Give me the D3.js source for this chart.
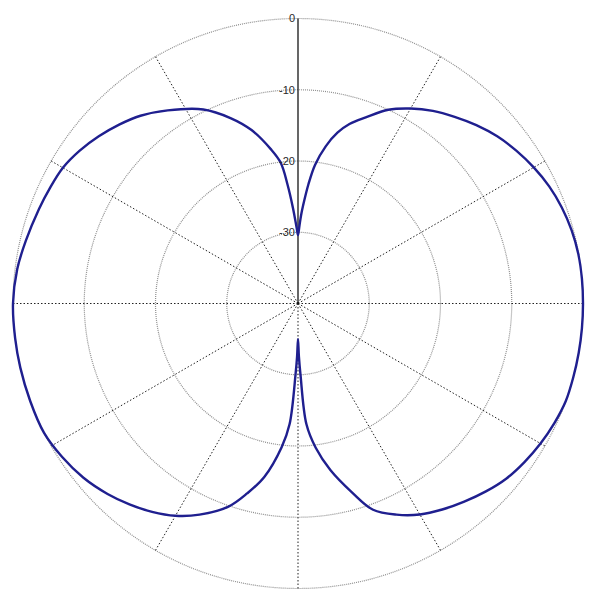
<!DOCTYPE html>
<html>
<head>
<meta charset="utf-8">
<script src="https://cdn.jsdelivr.net/npm/d3@7"></script>
<style>
  body { margin: 0; background: #fff; }
</style>
</head>
<body>
<div id="polar"></div>
<script>
// Pattern data: angle (deg, clockwise from top) and level (dB)
var angles = [0, 1, 2, 3, 5, 7, 10, 13, 16, 20, 25, 30, 35, 40, 45, 50, 55, 60, 65, 70, 75, 80, 85, 90,
  95, 100, 105, 110, 115, 120, 125, 130, 135, 140, 145, 150, 155, 160, 164, 169, 173, 176, 178, 179, 180,
  181, 182, 184, 186.5, 191, 195, 199, 205, 210, 215, 220, 225, 231, 237, 243, 250, 257, 263, 270,
  277, 283, 290, 295, 300, 305, 310, 315, 320, 326, 334, 340, 345, 350, 353, 355, 357, 359];
var levels = [-30.4, -29.2, -27.6, -26.2, -23.2, -20.4, -17.6, -15.4, -13.8, -12.2, -10.0, -8.4, -7.0, -5.8, -4.6, -3.5, -2.6, -1.8, -1.1, -0.6, -0.25, -0.05, 0, 0,
  0, 0, 0, 0, -0.3, -0.7, -1.2, -1.8, -2.7, -3.7, -4.7, -5.8, -7.3, -9.2, -12.4, -16.2, -19.6, -23, -30, -32.5, -35,
  -32.5, -30, -23, -19.7, -15.2, -12.4, -9.8, -7.3, -5.6, -4.3, -3.2, -2.2, -1.2, -0.5, 0, 0, 0, 0, 0,
  -0.3, -0.8, -1.3, -1.6, -1.9, -2.6, -3.5, -4.5, -5.6, -7.3, -9.7, -12.3, -14.8, -18, -20.1, -23.3, -26.6, -29.4];

// Ring levels and spoke angles
var ringLevels = [0, -10, -20, -30];
var spokeAngles = [30, 60, 90, 120, 150, 180, 210, 240, 270, 300, 330];

var svgWidth = 600;
var svgHeight = 600;
var cx = 298;
var cy = 303.5;
var outerR = 285;

var svg = d3.select("#polar")
  .append("svg")
  .attr("width", svgWidth)
  .attr("height", svgHeight);

var chartGroup = svg.append("g")
  .attr("transform", `translate(${cx}, ${cy})`);

// radial scale: -40 dB at centre, 0 dB on outer ring
var rScale = d3.scaleLinear().domain([-40, 0]).range([0, outerR]).clamp(true);

// rings
chartGroup.selectAll("circle.ring")
  .data(ringLevels)
  .enter()
  .append("circle")
  .attr("class", "ring")
  .attr("r", d => rScale(d))
  .attr("fill", "none")
  .attr("stroke", "#8f8f8f")
  .attr("stroke-width", 1.2)
  .attr("stroke-dasharray", "1,1");

// spokes (dotted)
chartGroup.selectAll("line.spoke")
  .data(spokeAngles)
  .enter()
  .append("line")
  .attr("class", "spoke")
  .attr("x1", 0)
  .attr("y1", 0)
  .attr("x2", d => rScale(0) * Math.sin(d * Math.PI / 180))
  .attr("y2", d => -rScale(0) * Math.cos(d * Math.PI / 180))
  .attr("stroke", "#222")
  .attr("stroke-width", 1)
  .attr("stroke-dasharray", "1.5,2");

// 0 deg axis is solid
chartGroup.append("line")
  .attr("x1", 0)
  .attr("y1", 0)
  .attr("x2", 0)
  .attr("y2", -rScale(0))
  .attr("stroke", "#000")
  .attr("stroke-width", 1.2);

// pattern trace
var pattern = angles.map((a, i) => [a * Math.PI / 180, rScale(levels[i])]);

var radial = d3.lineRadial()
  .angle(d => d[0])
  .radius(d => d[1])
  .curve(d3.curveCatmullRomClosed.alpha(0.5));

chartGroup.append("path")
  .datum(pattern)
  .attr("d", radial)
  .attr("fill", "none")
  .attr("stroke", "#1f1f8f")
  .attr("stroke-width", 2.4);

// ring labels along the top axis
chartGroup.selectAll("text.ringLabel")
  .data(ringLevels)
  .enter()
  .append("text")
  .attr("class", "ringLabel")
  .attr("x", -3)
  .attr("y", d => -rScale(d))
  .attr("dy", "0.35em")
  .attr("text-anchor", "end")
  .attr("font-family", "Arial, Liberation Sans, sans-serif")
  .attr("font-size", "11px")
  .attr("fill", "#2a2a2a")
  .text(d => d);
</script>
</body>
</html>
